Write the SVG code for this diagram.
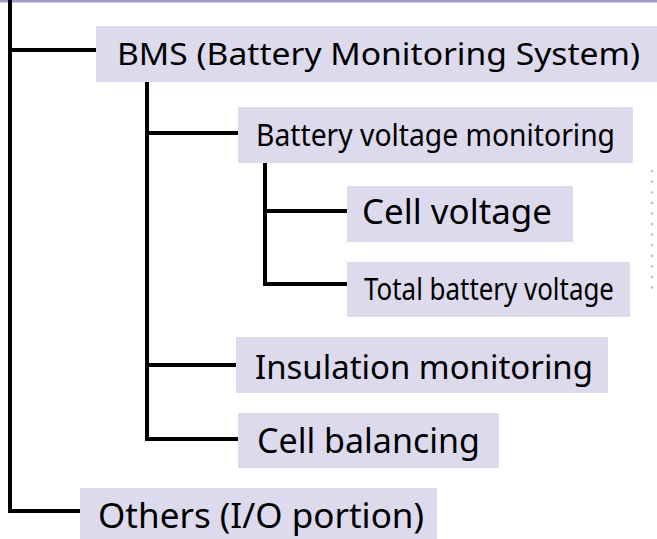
<svg xmlns="http://www.w3.org/2000/svg" width="657" height="539" viewBox="0 0 657 539">
<style>
.box{fill:#dcdaec}
.t{font-family:"Noto Sans","Open Sans","DejaVu Sans",sans-serif;fill:#000}
.ln{stroke:#000;stroke-width:4;fill:none;stroke-linecap:square}
</style>
<rect x="0" y="0" width="657" height="2.5" fill="#a39bc9"/>
<line x1="652" y1="171" x2="652" y2="290" stroke="#e0aede" stroke-width="2.6" stroke-dasharray="0.1 10.5" stroke-linecap="round"/>
<g id="connectors">
<path class="ln" d="M10 2V511H78"/>
<path class="ln" d="M10 50H94"/>
<path class="ln" d="M147 84V439H236"/>
<path class="ln" d="M147 133H236"/>
<path class="ln" d="M147 365H234"/>
<path class="ln" d="M265 165V284H345"/>
<path class="ln" d="M265 211H345"/>
</g>
<g id="bms"><rect class="box" x="96" y="26" width="561" height="56"/><text class="t" x="117" y="65" font-size="31" textLength="523" lengthAdjust="spacingAndGlyphs">BMS (Battery Monitoring System)</text></g>
<g id="bvm"><rect class="box" x="238" y="107" width="395" height="56"/><text class="t" x="256" y="146" font-size="30" textLength="359" lengthAdjust="spacingAndGlyphs">Battery voltage monitoring</text></g>
<g id="cellv"><rect class="box" x="347" y="186" width="226" height="56"/><text class="t" x="362" y="224" font-size="34" textLength="190" lengthAdjust="spacingAndGlyphs">Cell voltage</text></g>
<g id="totalv"><rect class="box" x="347" y="262" width="283" height="55"/><text class="t" x="364" y="300" font-size="30" textLength="250" lengthAdjust="spacingAndGlyphs">Total battery voltage</text></g>
<g id="insul"><rect class="box" x="236" y="337" width="372" height="56"/><text class="t" x="255" y="379" font-size="33" textLength="338" lengthAdjust="spacingAndGlyphs">Insulation monitoring</text></g>
<g id="cellbal"><rect class="box" x="238" y="413" width="261" height="55"/><text class="t" x="257" y="453" font-size="34" textLength="223" lengthAdjust="spacingAndGlyphs">Cell balancing</text></g>
<g id="others"><rect class="box" x="80" y="488" width="357" height="51"/><text class="t" x="98" y="528" font-size="35" textLength="326" lengthAdjust="spacingAndGlyphs">Others (I/O portion)</text></g>
</svg>
